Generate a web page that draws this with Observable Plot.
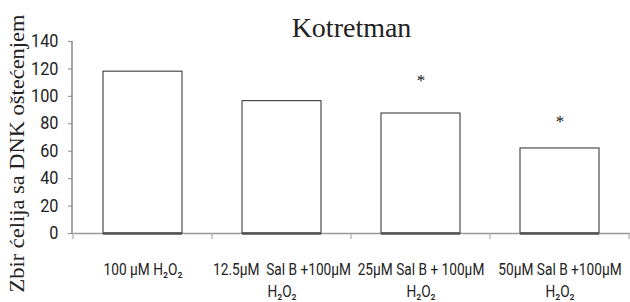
<!DOCTYPE html>
<html>
<head>
<meta charset="utf-8">
<script src="https://cdn.jsdelivr.net/npm/d3@7"></script>
<script src="https://cdn.jsdelivr.net/npm/@observablehq/plot@0.6"></script>
<style>
  html, body { margin: 0; padding: 0; background: #fff; }
  #chart { width: 630px; height: 302px; }
</style>
</head>
<body>
<div id="chart"></div>
<script>
const categories = ["c1", "c2", "c3", "c4"];
const labels = [
  "100 µM H₂O₂",
  "12.5µM  Sal B +100µM\nH₂O₂",
  "25µM Sal B + 100µM\nH₂O₂",
  "50µM Sal B +100µM\nH₂O₂"
];
const values = [118, 96.5, 87.5, 62];
const significance = ["", "", "*", "*"];
const starValues = [null, null, 114, 84];
const yTicks = [0, 20, 40, 60, 80, 100, 120, 140];
const title = "Kotretman";
const yLabel = "Zbir ćelija sa DNK oštećenjem";

const data = categories.map((c, i) => ({cat: c, label: labels[i], value: values[i], sig: significance[i], sy: starValues[i]}));
const labelOf = new Map(categories.map((c, i) => [c, labels[i]]));
const sansNarrow = "Roboto, 'Liberation Sans', sans-serif";
const serif = "'Liberation Serif', 'Times New Roman', serif";

const chart = Plot.plot({
  width: 630,
  height: 302,
  marginLeft: 72,
  marginRight: 0,
  marginTop: 41,
  marginBottom: 69,
  style: {background: "#fff", overflow: "visible"},
  x: {domain: categories, paddingInner: 0.43, paddingOuter: 0.215, axis: null},
  y: {domain: [0, 140], axis: null},
  marks: [
    Plot.axisY({ticks: yTicks, tickSize: 4, tickPadding: 10, stroke: "#888", label: null,
      fontSize: 17.5, fill: "#222", fontFamily: sansNarrow}),
    Plot.axisX({tickSize: 0, tickPadding: 25, label: null, tickFormat: d => labelOf.get(d),
      fontSize: 16.5, lineHeight: 1.38, fill: "#222", fontFamily: sansNarrow}),
    Plot.ruleY([0], {stroke: "#999", strokeWidth: 1.5}),
    Plot.barY(data, {x: "cat", y: "value", fill: "#fff", stroke: "#2a2a2a", strokeWidth: 1}),
    Plot.tickY(data, {x: "cat", y: 0, stroke: "#555", strokeWidth: 2.5}),
    Plot.text(data.filter(d => d.sig), {x: "cat", y: "sy", text: "sig", fontSize: 17, fill: "#111",
      fontFamily: serif, lineAnchor: "middle", dy: 3}),
    Plot.text([title], {frameAnchor: "top", lineAnchor: "bottom", dy: -5, fontSize: 28, fill: "#222",
      fontFamily: serif}),
    Plot.text([yLabel], {frameAnchor: "left", rotate: -90, dx: -55, dy: 16, fontSize: 21, fill: "#222",
      fontFamily: serif, textAnchor: "middle"})
  ]
});

document.getElementById("chart").appendChild(chart);

const svgNode = chart.tagName.toLowerCase() === "svg" ? chart : chart.querySelector("svg");
const svg = d3.select(svgNode);

// condensed look for tick labels (Calibri-like narrow glyphs)
function condense(selector, sx) {
  svg.selectAll(selector).each(function() {
    const t = this.getAttribute("transform") || "";
    this.setAttribute("transform", t + ` scale(${sx},1)`);
  });
}
condense('g[aria-label="y-axis tick label"] text', 0.93);
condense('g[aria-label="x-axis tick label"] text', 0.83);

// stretch the y label along its length like the reference
svg.selectAll('text').filter(function() { return this.textContent === yLabel; })
  .attr("textLength", 278).attr("lengthAdjust", "spacingAndGlyphs");

// y-axis domain line and x-axis category boundary ticks
const xs = chart.scale("x");
const ys = chart.scale("y");
const y0 = ys.apply(0), yTop = ys.apply(140);
const left = 72;
svg.append("line").attr("x1", left).attr("x2", left).attr("y1", yTop).attr("y2", y0)
  .attr("stroke", "#888").attr("stroke-width", 1.5);
const step = xs.step, bw = xs.bandwidth;
const boundaries = categories.map(c => xs.apply(c) - (step - bw) / 2);
boundaries.push(xs.apply(categories[categories.length - 1]) + bw + (step - bw) / 2);
boundaries.forEach(px => {
  svg.append("line").attr("x1", px).attr("x2", px).attr("y1", y0).attr("y2", y0 + 6)
    .attr("stroke", "#aaa").attr("stroke-width", 1.2);
});
</script>
</body>
</html>
